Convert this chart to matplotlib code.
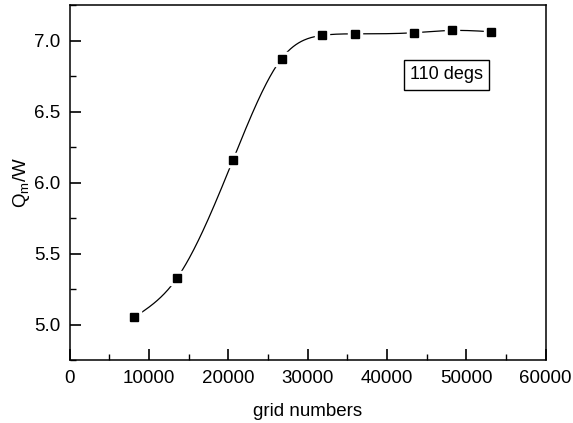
import numpy as np
import matplotlib
matplotlib.use('Agg')
import matplotlib.pyplot as plt
from matplotlib.ticker import MultipleLocator

plt.rcParams['font.family'] = ['Liberation Sans', 'DejaVu Sans']

grid_numbers = [8100, 13500, 20600, 26700, 31800, 35900, 43400, 48200, 53100]
qm_over_w = [5.05, 5.325, 6.163, 6.875, 7.039, 7.05, 7.058, 7.074, 7.065]


def natural_spline(x, y, n=400):
    # natural cubic spline through the data points, for the connecting line
    x = np.asarray(x, float)
    y = np.asarray(y, float)
    h = np.diff(x)
    k = len(x)
    A = np.zeros((k, k))
    b = np.zeros(k)
    A[0, 0] = A[-1, -1] = 1.0
    for i in range(1, k - 1):
        A[i, i - 1] = h[i - 1]
        A[i, i] = 2 * (h[i - 1] + h[i])
        A[i, i + 1] = h[i]
        b[i] = 6 * ((y[i + 1] - y[i]) / h[i] - (y[i] - y[i - 1]) / h[i - 1])
    M = np.linalg.solve(A, b)
    xs = np.linspace(x[0], x[-1], n)
    idx = np.clip(np.searchsorted(x, xs) - 1, 0, k - 2)
    x0, x1 = x[idx], x[idx + 1]
    hh = x1 - x0
    t0 = x1 - xs
    t1 = xs - x0
    ys = (M[idx] * t0 ** 3 + M[idx + 1] * t1 ** 3) / (6 * hh) \
        + (y[idx] / hh - M[idx] * hh / 6) * t0 \
        + (y[idx + 1] / hh - M[idx + 1] * hh / 6) * t1
    return xs, ys


fig = plt.figure(figsize=(5.73, 4.23), dpi=100)
ax = fig.add_axes([0.1216, 0.149, 0.8308, 0.838])

xs, ys = natural_spline(grid_numbers, qm_over_w)
ax.plot(xs, ys, color='black', lw=0.9, zorder=2)
# white halo so the line stops short of each marker
ax.plot(grid_numbers, qm_over_w, ls='none', marker='s', ms=10,
        mfc='white', mec='white', zorder=3)
ax.plot(grid_numbers, qm_over_w, ls='none', marker='s', ms=5.5,
        mfc='black', mec='black', zorder=4)

ax.set_xlim(0, 60000)
ax.set_ylim(4.75, 7.25)
ax.xaxis.set_major_locator(MultipleLocator(10000))
ax.xaxis.set_minor_locator(MultipleLocator(5000))
ax.yaxis.set_major_locator(MultipleLocator(0.5))
ax.yaxis.set_minor_locator(MultipleLocator(0.25))
ax.yaxis.set_major_formatter(matplotlib.ticker.FormatStrFormatter('%.1f'))

ax.tick_params(which='major', direction='in', length=8, width=1.2,
               labelsize=13.5, pad=7, top=False, right=False)
ax.tick_params(which='minor', direction='in', length=4, width=1.0,
               top=False, right=False)
for s in ax.spines.values():
    s.set_linewidth(1.1)

ax.set_xlabel('grid numbers', fontsize=13.5, labelpad=12)
ax.set_ylabel(r'$\mathregular{Q_m/W}$', fontsize=13.5, labelpad=1)

ax.text(0.7916, 0.8045, '110 degs', transform=ax.transAxes, fontsize=13,
        ha='center', va='center',
        bbox=dict(boxstyle='square,pad=0.35', fc='white', ec='black', lw=1.0))

fig.savefig('out.png', dpi=100)
